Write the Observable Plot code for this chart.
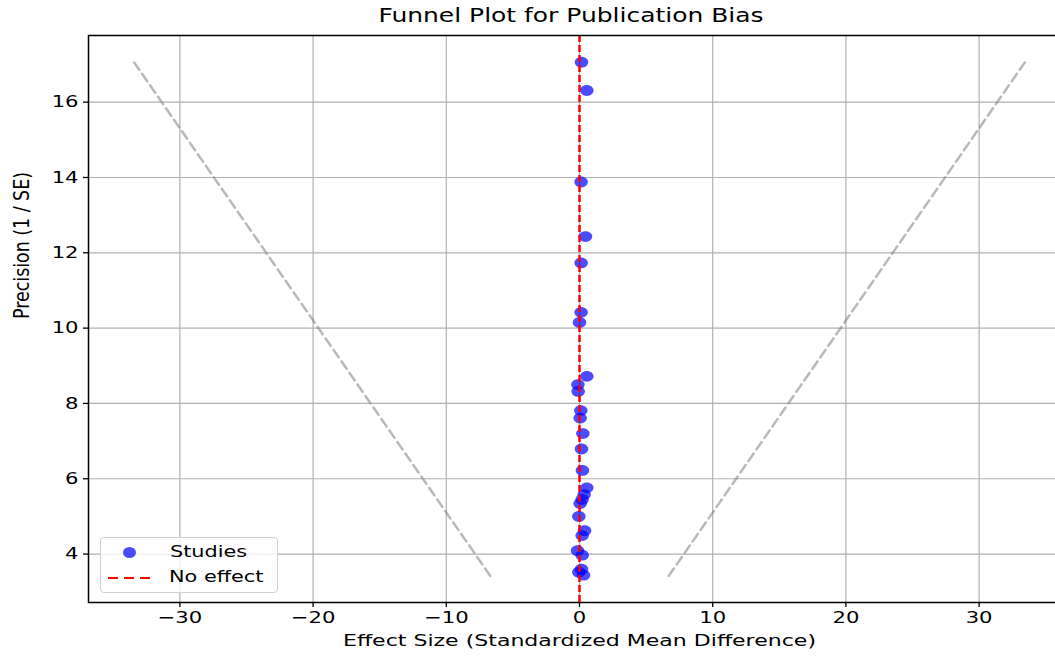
<!DOCTYPE html>
<html>
<head>
<meta charset="utf-8">
<script src="https://cdn.jsdelivr.net/npm/d3@7"></script>
<script src="https://cdn.jsdelivr.net/npm/@observablehq/plot@0.6"></script>
<style>
  body { margin: 0; background: #fff; overflow: hidden; font-family: "DejaVu Sans", sans-serif; }
  #wrap { position: relative; width: 1055px; height: 657px; overflow: hidden; }
  #title { height: 30px; position: relative; }
  #title span { position: absolute; left: 571px; top: 5px; font-size: 19.5px; line-height: 22px; white-space: nowrap; color: #000;
    transform: translateX(-50%) scaleX(1.28); }
  #legend { position: absolute; left: 100px; top: 537px; width: 178px; height: 56px; box-sizing: border-box;
    border: 1px solid #cfcfcf; border-radius: 4px; background: rgba(255,255,255,0.8); }
  #legend .dot { position: absolute; left: 22px; top: 8.5px; width: 13px; height: 11px; border-radius: 50%; background: rgba(0,0,255,0.7); }
  #legend .dash { position: absolute; left: 7px; top: 39px; width: 43px; height: 2px;
    background: repeating-linear-gradient(to right, red 0 10px, transparent 10px 16px); }
  #legend .lbl { position: absolute; font-size: 16px; line-height: 18px; white-space: nowrap; color: #000;
    transform: scaleX(1.3); transform-origin: left center; }
</style>
</head>
<body>
<div id="wrap">
  <div id="title"><span>Funnel Plot for Publication Bias</span></div>
  <div id="chart"></div>
  <div id="legend">
    <span class="dot"></span><span class="lbl" style="left:69px;top:5px">Studies</span>
    <span class="dash"></span><span class="lbl" style="left:68px;top:30px">No effect</span>
  </div>
</div>
<script>
// Studies: precision (1/SE) and effect size (SMD)
const precision = [17.06, 16.31, 13.88, 12.43, 11.73, 10.42, 10.15, 8.72, 8.50, 8.32,
                   7.81, 7.61, 7.20, 6.79, 6.22, 5.76, 5.58, 5.45, 5.34, 5.00,
                   4.62, 4.49, 4.09, 3.97, 3.60, 3.52, 3.44];
const effect    = [0.15, 0.55, 0.12, 0.45, 0.12, 0.12, 0.00, 0.55, -0.12, -0.10,
                   0.10, 0.05, 0.25, 0.15, 0.22, 0.55, 0.35, 0.20, 0.05, -0.05,
                   0.38, 0.20, -0.15, 0.20, 0.15, -0.05, 0.30];
// Funnel boundary endpoints
const funnelPrecision = [3.42, 17.05];
const funnelLeft  = [-6.70, -33.42];
const funnelRight = [6.70, 33.42];
const noEffect = [0];
const xTicks = [-30, -20, -10, 0, 10, 20, 30];
const yTicks = [4, 6, 8, 10, 12, 14, 16];
const xLabel = "Effect Size (Standardized Mean Difference)";
const yLabel = "Precision (1 / SE)";

const studies = precision.map((p, i) => ({precision: p, effect: effect[i]}));
const leftLine = funnelPrecision.map((p, i) => ({precision: p, effect: funnelLeft[i]}));
const rightLine = funnelPrecision.map((p, i) => ({precision: p, effect: funnelRight[i]}));

// slightly wide ellipse symbol (reference is horizontally stretched)
const ellipse = {
  draw(ctx, size) {
    const r = Math.sqrt(size / Math.PI), rx = r * 1.25, ry = r, k = 0.5523;
    ctx.moveTo(rx, 0);
    ctx.bezierCurveTo(rx, ry * k, rx * k, ry, 0, ry);
    ctx.bezierCurveTo(-rx * k, ry, -rx, ry * k, -rx, 0);
    ctx.bezierCurveTo(-rx, -ry * k, -rx * k, -ry, 0, -ry);
    ctx.bezierCurveTo(rx * k, -ry, rx, -ry * k, rx, 0);
    ctx.closePath();
  }
};

const fmt = d3.format("d");
const chart = Plot.plot({
  width: 1070,
  height: 627,
  marginLeft: 88,
  marginRight: 0,
  marginTop: 5,
  marginBottom: 55,
  style: {fontFamily: "DejaVu Sans", fontSize: "16px", color: "#000", background: "#fff", maxWidth: "none"},
  x: {domain: [-36.86, 36.86], label: null},
  y: {domain: [2.714, 17.77], label: null},
  marks: [
    Plot.gridX(xTicks, {stroke: "#b0b0b0", strokeOpacity: 1, strokeWidth: 1.2}),
    Plot.gridY(yTicks, {stroke: "#b0b0b0", strokeOpacity: 1, strokeWidth: 1.2}),
    Plot.line(leftLine, {x: "effect", y: "precision", stroke: "#808080", strokeOpacity: 0.55, strokeWidth: 2.5, strokeDasharray: "9,5"}),
    Plot.line(rightLine, {x: "effect", y: "precision", stroke: "#808080", strokeOpacity: 0.55, strokeWidth: 2.5, strokeDasharray: "9,5"}),
    Plot.dot(studies, {x: "effect", y: "precision", r: 5.4, symbol: ellipse, fill: "blue", fillOpacity: 0.7, stroke: "none"}),
    Plot.ruleX(noEffect, {stroke: "red", strokeWidth: 2.5, strokeDasharray: "7,3"}),
    Plot.frame({stroke: "#000", strokeWidth: 1.5}),
    Plot.axisX(xTicks, {tickSize: 5, tickPadding: 4, fontSize: 16.5, tickFormat: fmt, label: null, fill: "#000", strokeWidth: 1.3}),
    Plot.axisY(yTicks, {tickSize: 5, tickPadding: 5, fontSize: 16.5, tickFormat: fmt, label: null, fill: "#000", strokeWidth: 1.3}),
    Plot.text([xLabel], {frameAnchor: "bottom", dy: 43, fontSize: 16.5, fill: "#000"}),
    Plot.text([yLabel], {frameAnchor: "left", dx: -66, rotate: -90, fontSize: 21, fill: "#000"})
  ]
});
chart.style.maxWidth = "none";
chart.style.display = "block";
document.getElementById("chart").appendChild(chart);

// emulate the horizontal stretch of the reference image's text
const svg = d3.select(chart);
svg.selectAll('g[aria-label="x-axis tick label"] text, g[aria-label="y-axis tick label"] text').each(function() {
  const len = this.getComputedTextLength();
  this.setAttribute("textLength", len * 1.28);
  this.setAttribute("lengthAdjust", "spacingAndGlyphs");
});
svg.selectAll("text").each(function() {
  if (this.textContent === xLabel) {
    this.setAttribute("textLength", 473);
    this.setAttribute("lengthAdjust", "spacingAndGlyphs");
  } else if (this.textContent === yLabel) {
    this.setAttribute("textLength", 147);
    this.setAttribute("lengthAdjust", "spacingAndGlyphs");
  }
});
</script>
</body>
</html>
